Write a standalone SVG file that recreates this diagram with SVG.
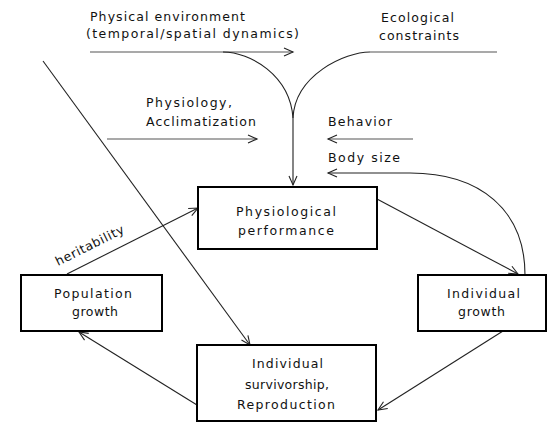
<svg xmlns="http://www.w3.org/2000/svg" width="548" height="424" viewBox="0 0 548 424">
<style>
.box{fill:#fff;stroke:#000;stroke-width:2}
.lbl{font-family:"DejaVu Sans","Liberation Sans",sans-serif;font-size:12.5px;fill:#111}
.ln{fill:none;stroke:#222;stroke-width:1.1}
.lt{fill:none;stroke:#555;stroke-width:1.2}
</style>
<defs>
<marker id="ah" markerUnits="userSpaceOnUse" markerWidth="12" markerHeight="10" refX="10" refY="5" orient="auto" viewBox="0 0 12 10">
<path d="M1,1 L10,5 L1,9" fill="none" stroke="#222" stroke-width="1.1"/>
</marker>
</defs>
<rect width="548" height="424" fill="#fff"/>
<g id="connectors">
<path class="lt" d="M90,52 L293,52" marker-end="url(#ah)"/>
<path class="ln" d="M223,52 C250,52 290,75 293,118"/>
<path class="lt" d="M497,52 L370,52"/>
<path class="ln" d="M370,52 C345,52 295,75 293,118 L293,185" marker-end="url(#ah)"/>
<path class="lt" d="M107,139 L257,139" marker-end="url(#ah)"/>
<path class="lt" d="M413,139 L328,139" marker-end="url(#ah)"/>
<path class="ln" d="M525,275 C525,210 480,173 410,173 L328,173" marker-end="url(#ah)"/>
<path class="ln" d="M43,61 L250,345" marker-end="url(#ah)"/>
<path class="ln" d="M67,274 L198,208" marker-end="url(#ah)"/>
<path class="ln" d="M377,199 L518,274" marker-end="url(#ah)"/>
<path class="ln" d="M503,331 L378,410" marker-end="url(#ah)"/>
<path class="ln" d="M197,405 L79,332" marker-end="url(#ah)"/>
</g>
<g id="labels">
<text class="lbl" x="90" y="21" textLength="155" lengthAdjust="spacing">Physical environment</text>
<text class="lbl" x="86" y="38" textLength="213" lengthAdjust="spacing">(temporal/spatial dynamics)</text>
<text class="lbl" x="381" y="22" textLength="73" lengthAdjust="spacing">Ecological</text>
<text class="lbl" x="379" y="40" textLength="80" lengthAdjust="spacing">constraints</text>
<text class="lbl" x="146" y="107" textLength="86" lengthAdjust="spacing">Physiology,</text>
<text class="lbl" x="146" y="126" textLength="110" lengthAdjust="spacing">Acclimatization</text>
<text class="lbl" x="328" y="126" textLength="64" lengthAdjust="spacing">Behavior</text>
<text class="lbl" x="328" y="162" textLength="72" lengthAdjust="spacing">Body size</text>
<text class="lbl" x="58" y="266" textLength="75" lengthAdjust="spacing" transform="rotate(-26.5 58 266)">heritability</text>
</g>
<g id="physiological-performance">
<rect class="box" x="198" y="187" width="179" height="62"/>
<text class="lbl" x="236" y="216" textLength="100" lengthAdjust="spacing">Physiological</text>
<text class="lbl" x="238" y="235" textLength="96" lengthAdjust="spacing">performance</text>
</g>
<g id="population-growth">
<rect class="box" x="21" y="275" width="141" height="56"/>
<text class="lbl" x="54" y="298" textLength="78" lengthAdjust="spacing">Population</text>
<text class="lbl" x="72" y="316" textLength="46" lengthAdjust="spacing">growth</text>
</g>
<g id="individual-growth">
<rect class="box" x="418" y="275" width="128" height="56"/>
<text class="lbl" x="447" y="298" textLength="73" lengthAdjust="spacing">Individual</text>
<text class="lbl" x="458" y="316" textLength="47" lengthAdjust="spacing">growth</text>
</g>
<g id="individual-survivorship">
<rect class="box" x="197" y="345" width="179" height="76"/>
<text class="lbl" x="252" y="368" textLength="71" lengthAdjust="spacing">Individual</text>
<text class="lbl" x="245" y="389" textLength="84" lengthAdjust="spacing">survivorship,</text>
<text class="lbl" x="237" y="409" textLength="98" lengthAdjust="spacing">Reproduction</text>
</g>
</svg>
